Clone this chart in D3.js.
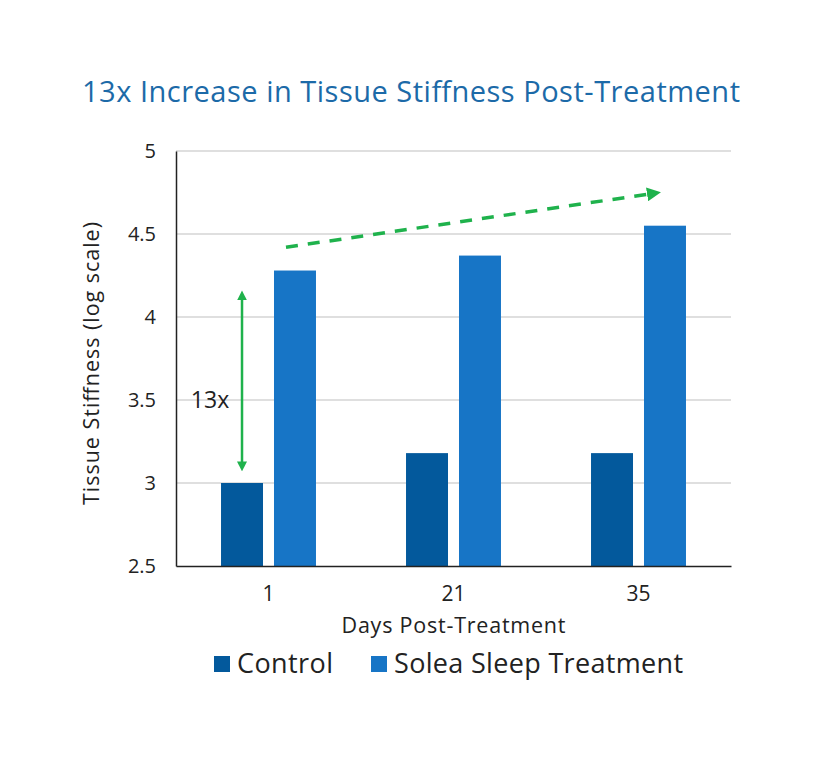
<!DOCTYPE html>
<html>
<head>
<meta charset="utf-8">
<script src="https://cdn.jsdelivr.net/npm/d3@7"></script>
<style>
  body { margin: 0; background: #fff; }
  text { font-family: "Open Sans", Lato, sans-serif; }
</style>
</head>
<body>
<div id="chart"></div>
<script>
// data
var days = ["1", "21", "35"];
var seriesNames = ["Control", "Solea Sleep Treatment"];
var control = [3.0, 3.18, 3.18];
var treatment = [4.28, 4.37, 4.55];
var yTicks = [2.5, 3, 3.5, 4, 4.5, 5];

var width = 818, height = 762;
var margin = { left: 176, right: 87, top: 151, bottom: 196 };
var colors = ["#03599c", "#1775c6"];
var green = "#1fb24c";

var svg = d3.select("#chart").append("svg")
  .attr("width", width)
  .attr("height", height);

var x = d3.scaleBand()
  .domain(days)
  .range([margin.left, width - margin.right]);

// two bars per day, 42px wide with an 11px gap
var inner = d3.scaleBand()
  .domain(seriesNames)
  .range([0, x.bandwidth()])
  .paddingInner(0.2075)
  .paddingOuter(0.85);

var y = d3.scaleLinear()
  .domain([2.5, 5])
  .range([height - margin.bottom, margin.top]);

// title
svg.append("text")
  .attr("x", 411).attr("y", 102)
  .attr("text-anchor", "middle")
  .attr("textLength", 658).attr("lengthAdjust", "spacing")
  .style("font-size", "29px")
  .style("fill", "#1c6aa8")
  .text("13x Increase in Tissue Stiffness Post-Treatment");

// gridlines
svg.append("g").selectAll("line")
  .data(yTicks.slice(1))
  .enter().append("line")
  .attr("x1", margin.left).attr("x2", width - margin.right)
  .attr("y1", d => y(d)).attr("y2", d => y(d))
  .style("stroke", "#d4d4d4").style("stroke-width", 1.5);

// y axis
var yAxis = svg.append("g")
  .attr("transform", "translate(" + margin.left + ",0)")
  .call(d3.axisLeft(y).tickValues(yTicks).tickSize(0).tickPadding(20).tickFormat(d3.format("")));
yAxis.select(".domain").style("stroke", "#222").style("stroke-width", 1.5);
yAxis.selectAll("text").style("font-size", "20px").style("fill", "#222");

// bars
var rows = days.map((d, i) => ({ day: d, values: [control[i], treatment[i]] }));
var groups = svg.append("g").selectAll("g")
  .data(rows)
  .enter().append("g")
  .attr("transform", d => "translate(" + x(d.day) + ",0)");

groups.selectAll("rect")
  .data(d => d.values.map((v, j) => ({ name: seriesNames[j], value: v, j: j })))
  .enter().append("rect")
  .attr("x", d => inner(d.name))
  .attr("width", inner.bandwidth())
  .attr("y", d => y(d.value))
  .attr("height", d => y(2.5) - y(d.value))
  .style("fill", d => colors[d.j]);

// x axis
var xAxis = svg.append("g")
  .attr("transform", "translate(0," + y(2.5) + ")")
  .call(d3.axisBottom(x).tickSize(0).tickPadding(20));
xAxis.select(".domain").style("stroke", "#222").style("stroke-width", 1.5);
xAxis.selectAll("text").style("font-size", "21px").style("fill", "#222");

// axis titles
svg.append("text")
  .attr("transform", "translate(99," + y(3.72) + ") rotate(-90)")
  .attr("text-anchor", "middle")
  .attr("textLength", 283).attr("lengthAdjust", "spacing")
  .style("font-size", "21.5px").style("fill", "#222")
  .text("Tissue Stiffness (log scale)");

svg.append("text")
  .attr("x", x("21") + x.bandwidth() / 2).attr("y", 633)
  .attr("text-anchor", "middle")
  .attr("textLength", 224).attr("lengthAdjust", "spacing")
  .style("font-size", "21.5px").style("fill", "#222")
  .text("Days Post-Treatment");

// annotations
var defs = svg.append("defs");
defs.append("marker")
  .attr("id", "head")
  .attr("viewBox", "0 0 10 10")
  .attr("refX", 5).attr("refY", 5)
  .attr("markerWidth", 4).attr("markerHeight", 4)
  .attr("orient", "auto-start-reverse")
  .append("path").attr("d", "M0,0 L10,5 L0,10 Z").style("fill", green);

var cx = x("1") + inner("Control") + inner.bandwidth() / 2;
svg.append("line")
  .attr("x1", cx).attr("x2", cx)
  .attr("y1", y(4.13)).attr("y2", y(3.1))
  .style("stroke", green).style("stroke-width", 2.5)
  .attr("marker-start", "url(#head)")
  .attr("marker-end", "url(#head)");

svg.append("text")
  .attr("x", cx - 32).attr("y", y(3.45))
  .attr("text-anchor", "middle")
  .style("font-size", "23px").style("fill", "#222")
  .text("13x");

svg.append("line")
  .attr("x1", x("1") + inner("Solea Sleep Treatment") + 12)
  .attr("y1", y(4.42))
  .attr("x2", x("35") + inner("Solea Sleep Treatment") + 10)
  .attr("y2", y(4.745))
  .style("stroke", green).style("stroke-width", 3.5)
  .style("stroke-dasharray", "12,10")
  .attr("marker-end", "url(#head)");

// legend
var legend = svg.append("g").attr("transform", "translate(0,664)");
var legendX = [214, 371];
var legendW = [96, 289];
seriesNames.forEach(function(name, i) {
  legend.append("rect")
    .attr("x", legendX[i]).attr("y", -8)
    .attr("width", 16).attr("height", 16)
    .style("fill", colors[i]);
  legend.append("text")
    .attr("x", legendX[i] + 23).attr("y", 0)
    .attr("dy", "0.35em")
    .attr("textLength", legendW[i]).attr("lengthAdjust", "spacing")
    .style("font-size", "27px").style("fill", "#222")
    .text(name);
});
</script>
</body>
</html>
